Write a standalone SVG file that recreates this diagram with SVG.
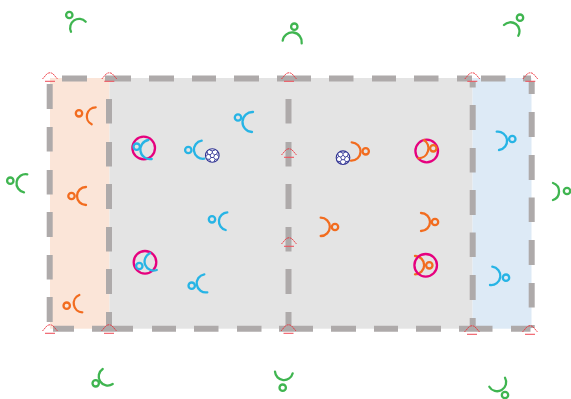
<svg xmlns="http://www.w3.org/2000/svg" width="571" height="399" viewBox="0 0 571 399">
<style>
.line{fill:none;stroke:#aeaaaa;stroke-width:6}
.p{fill:none;stroke-width:2.300;stroke-linecap:round}
.o{stroke:#f26c1f}.b{stroke:#27b4e5}.g{stroke:#3fb550}
.ring{fill:none;stroke:#e6007e;stroke-width:2.300}
.m{fill:none;stroke:#ed2b36;stroke-width:.9}
.mb{stroke:#ef5560;stroke-width:1.100}
.bl{fill:#fff;stroke:#2e3192;stroke-width:1.100}
.bd{fill:none;stroke:#2e3192;stroke-width:.9}
</style>
<defs>
<g id="mark">
<path class="m" stroke-dasharray="2 .7" d="M-7.500 1 L-3 -4.200 Q0 -6.200 3 -4.200 L7.500 1"/>
<path class="m mb" d="M-5 3.300H5"/>
</g>
<g id="ball">
<circle class="bl" r="6.800"/>
<path class="bd" d="M0-2.400 2.300-.7 1.400 2H-1.400L-2.300-.7ZM0-2.400V-4.600M2.300-.7 4.400-1.400M1.400 2 2.700 3.900M-1.400 2-2.700 3.900M-2.300-.7-4.400-1.400M-2.700-5.500 0-4.600 2.700-5.500M4.400-1.400 5.300-4M4.400-1.400 6.300 1M2.700 3.900 5.500 3.500M2.700 3.900 1.700 6.300M-2.700 3.900-5.500 3.500M-2.700 3.900-1.700 6.300M-4.400-1.400-5.300-4M-4.400-1.400-6.300 1"/>
</g>
</defs>
<g id="zones">
<rect x="50" y="78" width="59.500" height="250.700" fill="#fbe5d8"/>
<rect x="109.500" y="78" width="363" height="250.700" fill="#e4e4e4"/>
<rect x="472.500" y="78" width="59" height="250.700" fill="#ddeaf6"/>
</g>
<g id="connectors">
<path class="line" d="M62 78.500h25M105 78.500h26M149 78.500h25M192 78.500h24M234 78.500h25M277 78.500h34M329 78.500h24.500M372 78.500h24M414 78.500h24.500M457 78.500h15M481 78.500h24.500M523 78.500h8"/>
<path class="line" d="M53 328.700h21M92 328.700h41M152 328.700h24M194 328.700h24.500M237 328.700h24.500M279 328.700h34M331 328.700h25M374 328.700h24M416 328.700h25M459 328.700h33.500M511 328.700h19.500"/>
<path class="line" d="M49.700 84v25M49.700 127v24.500M49.700 170v24.500M49.700 212v25M49.700 255v24.500M49.700 297v25"/>
<path class="line" d="M109 99v24.500M109 142v24.500M109 184v25M109 227v24.500M109 269v25M109 312v16"/>
<path class="line" d="M288.500 99v24.500M288.500 142v24.500M288.500 184v25M288.500 227v24.500M288.500 269v25M288.500 312v16"/>
<path class="line" d="M472.700 81v6.500M472.700 105v25M472.700 148v24.500M472.700 190v25M472.700 232.500v24.500M472.700 275v25M472.700 318v10"/>
<path class="line" d="M531.700 81v13M531.700 112v25M531.700 155v25M531.700 197.500v24.500M531.700 240v25M531.700 283v24.500M531.700 325v3"/>
</g>
<g id="markers">
<use href="#mark" x="50" y="78"/><use href="#mark" x="109.300" y="78"/><use href="#mark" x="289" y="78"/><use href="#mark" x="472.300" y="78"/><use href="#mark" x="530.300" y="78"/>
<use href="#mark" x="289" y="154"/><use href="#mark" x="289" y="243"/>
<use href="#mark" x="50" y="330"/><use href="#mark" x="109" y="330"/><use href="#mark" x="288.500" y="330"/><use href="#mark" x="472" y="331"/><use href="#mark" x="530" y="331"/>
</g>
<g id="orange-1"><circle class="p o" cx="79" cy="113.300" r="3.200"/><path class="p o" d="M95.700 107.300A9 9 0 0 0 91.700 124.300"/></g>
<g id="orange-2"><circle class="p o" cx="71.500" cy="196" r="3.200"/><path class="p o" d="M86 187A9 9 0 0 0 86 205"/></g>
<g id="orange-3"><circle class="p o" cx="66.700" cy="305.700" r="3.200"/><path class="p o" d="M79.300 295A9 9 0 0 0 82.300 312.300"/></g>
<g id="blue-1"><circle class="ring" cx="143.700" cy="148" r="11.300"/><circle class="p b" cx="136.700" cy="146.700" r="3.200"/><path class="p b" d="M148.300 140A9 9 0 0 0 151.700 159"/></g>
<g id="blue-2"><circle class="p b" cx="188.300" cy="150" r="3.200"/><path class="p b" d="M201.700 140.700A9 9 0 0 0 204.300 158.700"/></g>
<g id="ball-1"><use href="#ball" x="212.300" y="155.500"/></g>
<g id="blue-3"><circle class="p b" cx="238" cy="117.500" r="3.200"/><path class="p b" d="M253 112A9.500 9.500 0 0 0 252 132"/></g>
<g id="blue-4"><circle class="p b" cx="212" cy="219.300" r="3.200"/><path class="p b" d="M227.300 212.300A9 9 0 0 0 225.700 230"/></g>
<g id="blue-5"><circle class="ring" cx="145" cy="262.300" r="11.300"/><circle class="p b" cx="139.300" cy="266" r="3.200"/><path class="p b" d="M150 253.300A9 9 0 0 0 156.700 270"/></g>
<g id="blue-6"><circle class="p b" cx="191.700" cy="285.700" r="3.200"/><path class="p b" d="M204.300 274.300A9 9 0 0 0 207.300 292.300"/></g>
<g id="orange-4"><circle class="p o" cx="365.700" cy="151.300" r="3.200"/><path class="p o" d="M351.700 142.300A9 9 0 0 1 351 160.700"/></g>
<g id="ball-2"><use href="#ball" x="343" y="157.700"/></g>
<g id="orange-5"><circle class="p o" cx="335" cy="227" r="3.200"/><path class="p o" d="M320.700 217.700A9 9 0 0 1 320.700 236"/></g>
<g id="orange-6"><circle class="ring" cx="426.700" cy="151" r="11.300"/><circle class="p o" cx="433.300" cy="148.300" r="3.200"/><path class="p o" d="M424 140A10 10 0 0 1 418.300 158.300"/></g>
<g id="orange-7"><circle class="p o" cx="435" cy="222" r="3.200"/><path class="p o" d="M421 213A9 9 0 0 1 421 231"/></g>
<g id="orange-8"><circle class="p o" cx="429.300" cy="265.300" r="3.200"/><path class="p o" d="M415 256A9 9 0 0 1 415 274.300"/><circle class="ring" cx="425.700" cy="265.300" r="11.300"/></g>
<g id="blue-7"><circle class="p b" cx="512.300" cy="139" r="3.200"/><path class="p b" d="M496.700 131.700A9 9 0 0 1 499 150"/></g>
<g id="blue-8"><circle class="p b" cx="506" cy="277.700" r="3.200"/><path class="p b" d="M492.300 266.700A9 9 0 0 1 490 285"/></g>
<g id="green-1"><circle class="p g" cx="69.300" cy="15" r="3.200"/><path class="p g" d="M85.700 21.700A9 9 0 0 0 71 31.700"/></g>
<g id="green-2"><circle class="p g" cx="294.300" cy="26.700" r="3.200"/><path class="p g" d="M282.700 40.700A9 9 0 0 1 301.700 43.300"/></g>
<g id="green-3"><circle class="p g" cx="520" cy="17.700" r="3.200"/><path class="p g" d="M504 25A9 9 0 0 1 518.300 35.700"/></g>
<g id="green-4"><circle class="p g" cx="10.300" cy="180.700" r="3.200"/><path class="p g" d="M27.300 174.300A9 9 0 0 0 24 192.300"/></g>
<g id="green-5"><circle class="p g" cx="567" cy="191" r="3.200"/><path class="p g" d="M553 183A9 9 0 0 1 553 200"/></g>
<g id="green-6"><circle class="p g" cx="95.700" cy="383.300" r="3.200"/><path class="p g" d="M102.700 369A9 9 0 0 0 112.700 384"/></g>
<g id="green-7"><circle class="p g" cx="282.700" cy="387.700" r="3.200"/><path class="p g" d="M275 371.700A9 9 0 0 0 292.700 373.300"/></g>
<g id="green-8"><circle class="p g" cx="505" cy="395" r="3.200"/><path class="p g" d="M505 377.700A9 9 0 0 1 489.300 386.700"/></g>
</svg>
